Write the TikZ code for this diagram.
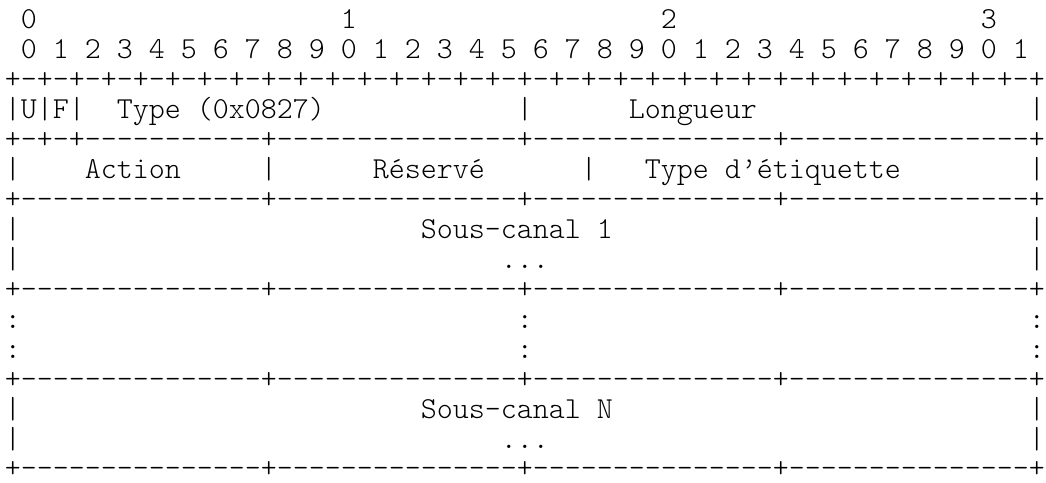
\documentclass[tikz,border=0pt]{standalone}
\usepackage{fontspec}
\newcommand\colgap[1]{\kern\dimexpr\fontcharwd\font`0*#1\relax}
\newcommand\nodepth[1]{\raisebox{0pt}[\height][0pt]{#1}}
\tikzset{
  row/.style={anchor=base west, inner sep=0pt, outer sep=0pt,
    font=\ttfamily\fontseries{l}\fontsize{30.476pt}{30pt}\selectfont\frenchspacing}
}
\begin{document}
\begin{tikzpicture}[x=1pt,y=1pt]
\fill[white] (0,0) rectangle (1046,-482);
\useasboundingbox (0,0) rectangle (1046,-482);
\node[row] (l1)  at (5,-28)  {\colgap{1}0\colgap{19}1\colgap{19}2\colgap{19}3};
\node[row] (l2)  at (5,-58)  {\colgap{1}0~1~2~3~4~5~6~7~8~9~0~1~2~3~4~5~6~7~8~9~0~1~2~3~4~5~6~7~8~9~0~1};
\node[row] (l3)  at (5,-88)  {+-+-+-+-+-+-+-+-+-+-+-+-+-+-+-+-+-+-+-+-+-+-+-+-+-+-+-+-+-+-+-+-+};
\node[row] (l4)  at (5,-118) {|U|F|\colgap{2}Type~(0x0827)\colgap{12}|\colgap{6}Longueur\colgap{17}|};
\node[row] (l5)  at (5,-148) {+-+-+-----------+---------------+---------------+---------------+};
\node[row] (l6)  at (5,-178) {|\colgap{4}Action\colgap{5}|\colgap{6}Réservé\colgap{6}|\colgap{3}Type~d’étiquette\colgap{8}|};
\node[row] (l7)  at (5,-208) {+---------------+---------------+---------------+---------------+};
\node[row] (l8)  at (5,-238) {|\colgap{25}Sous-canal~1\colgap{26}|};
\node[row] (l9)  at (5,-268) {|\colgap{30}...\colgap{30}|};
\node[row] (l10) at (5,-298) {+---------------+---------------+---------------+---------------+};
\node[row] (l11) at (5,-328) {:\colgap{31}:\colgap{31}:};
\node[row] (l12) at (5,-358) {:\colgap{31}:\colgap{31}:};
\node[row] (l13) at (5,-388) {+---------------+---------------+---------------+---------------+};
\node[row] (l14) at (5,-418) {|\colgap{25}Sous-canal~N\colgap{26}|};
\node[row] (l15) at (5,-448) {|\colgap{30}...\colgap{30}|};
\node[row] (l16) at (5,-477) {\nodepth{+---------------+---------------+---------------+---------------+}};
\end{tikzpicture}
\end{document}
